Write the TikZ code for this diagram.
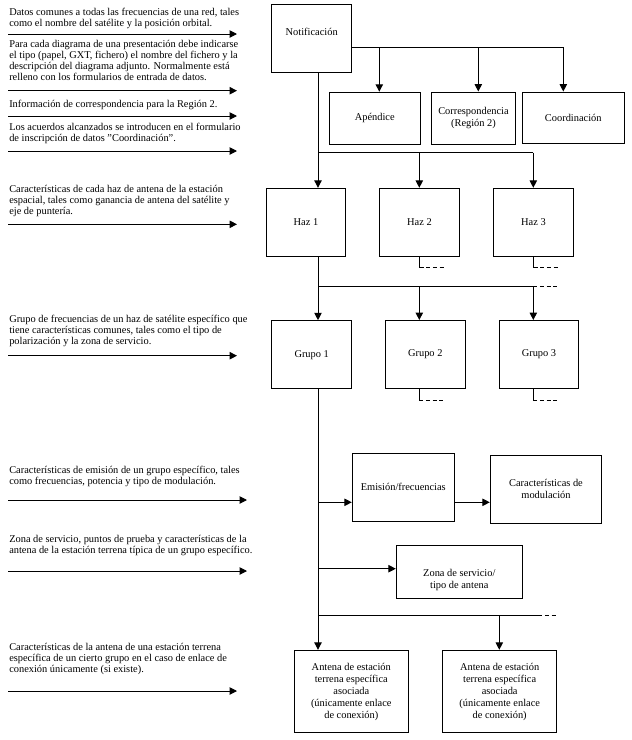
\documentclass[tikz,border=0pt]{standalone}
\usepackage{fontspec}
\setmainfont{Liberation Serif}
\usetikzlibrary{arrows.meta}
\newlength\px
\setlength\px{0.75pt}

\begin{document}
\begin{tikzpicture}[x=0.75pt,y=-0.75pt,
  caja/.style={draw, line width=0.75pt, inner sep=1pt, align=center, font=\fontsize{7.8}{9}\selectfont},
  texto/.style={inner sep=0pt, align=center, font=\fontsize{7.8}{9}\selectfont},
  nota/.style={anchor=north west, inner sep=0pt, align=left, font=\fontsize{7.8}{8.25}\selectfont},
  linea/.style={line width=0.75pt},
  flecha/.style={line width=0.75pt, -{Triangle[length=5.5pt,width=5.5pt]}},
  puntos/.style={line width=0.75pt, dash pattern=on 3pt off 2pt}]
   \useasboundingbox (0,0) rectangle (632,740);
   %% notas de la izquierda
   \node[nota] (datos) at (9,7.5) {Datos comunes a todas las frecuencias de una red, tales\\como el nombre del satélite y la posición orbital.};
   \node[nota] (diagr) at (9,40) {Para cada diagrama de una presentación debe indicarse\\el tipo (papel, GXT, fichero) el nombre del fichero y la\\descripción del diagrama adjunto. Normalmente está\\relleno con los formularios de entrada de datos.};
   \node[nota] (corresp) at (9,99.5) {Información de correspondencia para la Región 2.};
   \node[nota] (acuerdos) at (9,123) {Los acuerdos alcanzados se introducen en el formulario\\de inscripción de datos "Coordinación".};
   \node[nota] (carhaz) at (9,185) {Características de cada haz de antena de la estación\\espacial, tales como ganancia de antena del satélite y\\eje de puntería.};
   \node[nota] (grupofrec) at (9,315) {Grupo de frecuencias de un haz de satélite específico que\\tiene características comunes, tales como el tipo de\\polarización y la zona de servicio.};
   \node[nota] (caremis) at (9,466) {Características de emisión de un grupo específico, tales\\como frecuencias, potencia y tipo de modulación.};
   \node[nota] (zonaserv) at (9,535) {Zona de servicio, puntos de prueba y características de la\\antena de la estación terrena típica de un grupo específico.};
   \node[nota] (carant) at (9,643) {Características de la antena de una estación terrena\\específica de un cierto grupo en el caso de enlace de\\conexión únicamente (si existe).};
 \foreach \y/\fin [count=\i] in {34/237, 90.7/237, 116/237, 151/237, 224.3/237, 355.7/237, 500/247, 571/247, 691/237} {
        \coordinate (ini\i) at (8,\y);
        \coordinate (fin\i) at (\fin,\y);
        \draw[flecha] (ini\i) -- (fin\i);
 }
   %% cajas
   \node[caja, minimum width=80\px, minimum height=68\px,
         label={[texto, yshift=6\px]center:Notificación}] (notif) at (311.7,38.3) {};
   \node[caja, minimum width=91\px, minimum height=52\px] (apend) at (374.8,118.2) {Apéndice};
   \node[caja, minimum width=84.4\px, minimum height=52\px] (corr) at (473.5,118) {Correspondencia\\(Región 2)};
   \node[caja, minimum width=102\px, minimum height=51.5\px] (coord) at (573.3,117.8) {Coordinación};
   \node[caja, minimum width=79.4\px, minimum height=68\px] (haz1) at (306,222.3) {Haz 1};
   \node[caja, minimum width=80.4\px, minimum height=68\px] (haz2) at (419.5,222.3) {Haz 2};
   \node[caja, minimum width=80.4\px, minimum height=68\px] (haz3) at (533.5,222.3) {Haz 3};
   \node[caja, minimum width=80\px, minimum height=68\px] (grupo1) at (311.7,354.7) {Grupo 1};
   \node[caja, minimum width=80\px, minimum height=68\px] (grupo2) at (425.3,354.5) {Grupo 2};
   \node[caja, minimum width=79.4\px, minimum height=68\px] (grupo3) at (539,354.5) {Grupo 3};
   \node[caja, minimum width=102\px, minimum height=67.7\px] (emis) at (403.3,487.2) {Emisión/frecuencias};
   \node[caja, minimum width=111.4\px, minimum height=67.7\px] (modul) at (546,489.2) {Características de\\modulación};
   \node[caja, minimum width=126\px, minimum height=52.7\px,
         label={[texto, yshift=-8\px]center:Zona de servicio/\\tipo de antena}] (zona) at (459.3,571.7) {};
   \node[caja, minimum width=114\px, minimum height=82.4\px] (ant1) at (351.3,691.5) {Antena de estación\\terrena específica\\asociada\\(únicamente enlace\\de conexión)};
   \node[caja, minimum width=114\px, minimum height=82.4\px] (ant2) at (499.7,691.5) {Antena de estación\\terrena específica\\asociada\\(únicamente enlace\\de conexión)};
   %% Notificación -> apéndices
   \coordinate (n1) at (379.3,47.3);
   \coordinate (n2) at (478.3,47.3);
   \coordinate (n3) at (563.3,47.3);
   \draw[linea] ([yshift=-9\px]notif.east) -- (n3);
 \foreach \j/\b in {n1/apend, n2/corr, n3/coord}
        \draw[flecha] (\j) -- (\j |- \b.north);
   %% haces
   \coordinate (h1) at (318,152.7);
   \coordinate (h2) at (419.3,152.7);
   \coordinate (h3) at (533.3,152.7);
   \draw[linea] (notif.south -| h1) -- (h1) -- (h3);
 \foreach \j/\b in {h1/haz1, h2/haz2, h3/haz3}
        \draw[flecha] (\j) -- (\j |- \b.north);
 \foreach \b in {haz2, haz3} {
        \draw[linea] (\b.south) -- ++(0,10.7) coordinate (\b-t);
        \draw[puntos] (\b-t) -- ++(24,0);
 }
   %% grupos
   \coordinate (g1) at (318,286);
   \coordinate (g2) at (419.3,286);
   \coordinate (g3) at (533.3,286);
   \draw[linea] (haz1.south -| g1) -- (g1) -- (g3);
   \draw[puntos] (g3) -- ++(23.4,0);
 \foreach \j/\b in {g1/grupo1, g2/grupo2, g3/grupo3}
        \draw[flecha] (\j) -- (\j |- \b.north);
 \foreach \j/\b in {g2/grupo2, g3/grupo3} {
        \draw[linea] (\b.south -| \j) -- ++(0,11.2) coordinate (\b-t);
        \draw[puntos] (\b-t) -- ++(23.4,0);
 }
   %% emisión, zona y antenas
   \coordinate (e1) at (318,502.3);
   \coordinate (z1) at (318,568.7);
   \coordinate (a1) at (318,615.7);
   \coordinate (a2) at (499.3,615.7);
   \coordinate (a3) at (538.3,615.7);
   \draw[flecha] (grupo1.south -| a1) -- (a1 |- ant1.north);
   \draw[flecha] (e1) -- (e1 -| emis.west);
   \draw[flecha] (e1 -| emis.east) -- (e1 -| modul.west);
   \draw[flecha] (z1) -- (z1 -| zona.west);
   \draw[linea] (a1) -- (a3);
   \draw[puntos] (a3) -- ++(18.4,0);
   \draw[flecha] (a2) -- (a2 |- ant2.north);
\end{tikzpicture}
\end{document}
